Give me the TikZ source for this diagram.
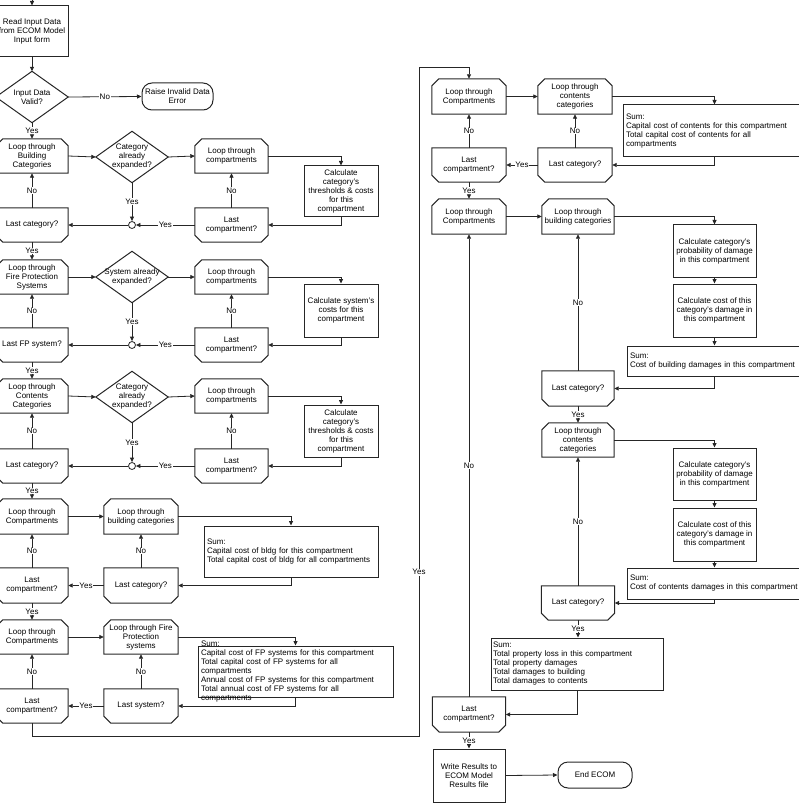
\documentclass[tikz,border=0pt]{standalone}
\usepackage{fontspec}
\setmainfont{Liberation Sans}
\usetikzlibrary{arrows.meta}
\newcommand\toploop[1]{\draw[outl] ([xshift=7pt]#1.north west) -- ([xshift=-7pt]#1.north east) -- ([yshift=-7pt]#1.north east) -- (#1.south east) -- (#1.south west) -- ([yshift=-7pt]#1.north west) -- cycle;}
\newcommand\botloop[1]{\draw[outl] (#1.north west) -- (#1.north east) -- ([yshift=7pt]#1.south east) -- ([xshift=-7pt]#1.south east) -- ([xshift=7pt]#1.south west) -- ([yshift=7pt]#1.south west) -- cycle;}
\newcommand\diam[1]{\draw[outl] (#1.north) -- (#1.east) -- (#1.south) -- (#1.west) -- cycle;}
\tikzset{
  txt/.style={font=\fontsize{8}{9}\selectfont, align=center, inner sep=0pt, text=black},
  outl/.style={line width=1pt, draw=black!85},
  rbox/.style={txt, draw=black!85, line width=1pt},
  lbox/.style={txt, minimum width=73pt, minimum height=34pt},
  dbox/.style={txt, minimum width=72pt, minimum height=51pt},
  sbox/.style={rbox, align=left, inner xsep=3pt},
  term/.style={rbox, rounded corners=10pt},
  junc/.style={circle, draw=black!85, line width=0.8pt, minimum size=7pt, inner sep=0pt, fill=white},
  conn/.style={line width=0.8pt, draw=black!85, -{Triangle[length=4.5pt,width=4pt]}},
  lbl/.style={font=\fontsize{8}{9}\selectfont, fill=white, inner sep=0.7pt, text=black}
}
\begin{document}
\begin{tikzpicture}[x=1pt,y=-1pt]
\useasboundingbox (0,0) rectangle (798,810);
% ---------- left part ----------
\coordinate (start) at (32,0);
\node[rbox, minimum width=72pt, minimum height=51pt] (read) at (32,31.5) {Read Input Data\\from ECOM Model\\Input form};
\node[dbox] (valid) at (32,97) {Input Data\\Valid?};
\node[term, minimum width=71pt, minimum height=27pt] (err) at (177.5,96.5) {Raise Invalid Data\\Error};
% row 1
\node[lbox, minimum width=72pt] (lbc) at (32,156) {Loop through\\Building\\Categories};
\node[dbox] (d1) at (132,157) {Category\\already\\expanded?};
\node[lbox] (lc1) at (231.5,156) {Loop through\\compartments};
\node[rbox, minimum width=74pt, minimum height=51pt] (calc1) at (341,191.5) {Calculate\\category's\\thresholds \& costs\\for this\\compartment};
\node[lbox] (lastc1) at (231.5,225) {Last\\compartment?};
\node[junc] (j1) at (132,225) {};
\node[lbox, minimum width=72pt] (lcat1) at (32,225) {Last category?};
% row 2
\node[lbox, minimum width=72pt] (lfp) at (32,277) {Loop through\\Fire Protection\\Systems};
\node[dbox] (d2) at (132,277) {System already\\expanded?};
\node[lbox] (lc2) at (231.5,277) {Loop through\\compartments};
\node[rbox, minimum width=74pt, minimum height=53pt] (calc2) at (341,310.5) {Calculate system's\\costs for this\\compartment};
\node[lbox] (lastc2) at (231.5,345) {Last\\compartment?};
\node[junc] (j2) at (132,345) {};
\node[lbox, minimum width=72pt] (lfps) at (32,345) {Last FP system?};
% row 3
\node[lbox, minimum width=72pt] (lcc) at (32,396) {Loop through\\Contents\\Categories};
\node[dbox] (d3) at (132,397) {Category\\already\\expanded?};
\node[lbox] (lc3) at (231.5,396) {Loop through\\compartments};
\node[rbox, minimum width=74pt, minimum height=52pt] (calc3) at (341,431) {Calculate\\category's\\thresholds \& costs\\for this\\compartment};
\node[lbox] (lastc3) at (231.5,466) {Last\\compartment?};
\node[junc] (j3) at (132,466) {};
\node[lbox, minimum width=72pt] (lcat3) at (32,466) {Last category?};
% row 4
\node[lbox, minimum width=72pt, minimum height=35pt] (lcomp4) at (32,516.5) {Loop through\\Compartments};
\node[lbox, minimum width=74pt, minimum height=35pt] (lbldg4) at (141,516.5) {Loop through\\building categories};
\node[sbox, text width=168pt, minimum height=51pt] (sum4) at (291,551.5) {Sum:\\Capital cost of bldg for this compartment\\Total capital cost of bldg for all compartments};
\node[lbox, minimum width=74pt, minimum height=35pt] (lcat4) at (141,585.5) {Last category?};
\node[lbox, minimum width=72pt, minimum height=35pt] (lastc4) at (32,585.5) {Last\\compartment?};
% row 5
\node[lbox, minimum width=72pt] (lcomp5) at (32,637) {Loop through\\Compartments};
\node[lbox, minimum width=74pt] (lfp5) at (141,637) {Loop through Fire\\Protection\\systems};
\node[rbox, minimum width=195pt, minimum height=51pt] (sum5box) at (295.5,671.5) {};
\node[txt, align=left, text width=191pt] (sum5) at (296.5,671.5) {Sum:\\Capital cost of FP systems for this compartment\\Total capital cost of FP systems for all\\compartments\\Annual cost of FP systems for this compartment\\Total annual cost of FP systems for all\\compartments};
\node[lbox, minimum width=74pt] (lsys5) at (141,706) {Last system?};
\node[lbox, minimum width=72pt] (lastc5) at (32,706) {Last\\compartment?};
% ---------- right part ----------
\node[lbox, minimum width=74pt, minimum height=35pt] (rcomp1) at (469,96.5) {Loop through\\Compartments};
\node[lbox, minimum width=74pt, minimum height=35pt] (rcont1) at (575,96.5) {Loop through\\contents\\categories};
\node[sbox, text width=176pt, minimum height=52pt] (rsum1) at (714,131) {Sum:\\Capital cost of contents for this compartment\\Total capital cost of contents for all\\compartments};
\node[lbox, minimum width=74pt] (rlcat1) at (575,165) {Last category?};
\node[lbox, minimum width=74pt] (rlastc1) at (469,165) {Last\\compartment?};
\node[lbox, minimum width=74pt, minimum height=35pt] (rcomp2) at (469,216.5) {Loop through\\Compartments};
\node[lbox, minimum width=72pt, minimum height=35pt] (rbldg2) at (578,216.5) {Loop through\\building categories};
\node[rbox, minimum width=83pt, minimum height=52pt] (rcalc1) at (714.5,251) {Calculate category's\\probability of damage\\in this compartment};
\node[rbox, minimum width=83pt, minimum height=53pt] (rcalc2) at (714.5,310.5) {Calculate cost of this\\category's damage in\\this compartment};
\node[sbox, text width=172pt, minimum height=30pt] (rsum2) at (716,361) {Sum:\\Cost of building damages in this compartment};
\node[lbox, minimum width=72pt, minimum height=35pt] (rlcat2) at (578,388.5) {Last category?};
\node[lbox, minimum width=72pt] (rcont2) at (578,440) {Loop through\\contents\\categories};
\node[rbox, minimum width=83pt, minimum height=52pt] (rcalc3) at (714.5,474) {Calculate category's\\probability of damage\\in this compartment};
\node[rbox, minimum width=83pt, minimum height=53pt] (rcalc4) at (714.5,534.5) {Calculate cost of this\\category's damage in\\this compartment};
\node[sbox, text width=172pt, minimum height=31pt] (rsum3) at (716,583.5) {Sum:\\Cost of contents damages in this compartment};
\node[lbox, minimum width=73pt] (rlcat3) at (578,603) {Last category?};
\node[sbox, inner xsep=2pt, text width=168pt, minimum height=52pt] (rsum4) at (577,664) {Sum:\\Total property loss in this compartment\\Total property damages\\Total damages to building\\Total damages to contents};
\node[lbox, minimum width=73pt, minimum height=35pt] (rlastc2) at (469,714.5) {Last\\compartment?};
\node[rbox, minimum width=72pt, minimum height=53pt] (write) at (469,775.5) {Write Results to\\ECOM Model\\Results file};
\node[term, minimum width=74pt, minimum height=26pt] (endn) at (595,775) {End ECOM};
% ---------- outlines ----------
\foreach \n in {lbc,lc1,lfp,lc2,lcc,lc3,lcomp4,lbldg4,lcomp5,lfp5,rcomp1,rcont1,rcomp2,rbldg2,rcont2} {\toploop{\n}}
\foreach \n in {lastc1,lcat1,lastc2,lfps,lastc3,lcat3,lcat4,lastc4,lsys5,lastc5,rlcat1,rlastc1,rlcat2,rlcat3,rlastc2} {\botloop{\n}}
\foreach \n in {valid,d1,d2,d3} {\diam{\n}}
% ---------- connectors ----------
\draw[conn] (start) -- (read.north);
\draw[conn] (read.south) -- (valid.north);
\draw[conn] (valid.east) -- node[lbl]{No} (err.west);
\draw[conn] (valid.south) -- node[lbl]{Yes} (lbc.north);
% row 1
\draw[conn] (lbc.east) -- (d1.west);
\draw[conn] (d1.east) -- (lc1.west);
\draw[conn] (lc1.east) -| (calc1.north);
\draw[conn] (calc1.south) |- (lastc1.east);
\draw[conn] (lastc1.north) -- node[lbl]{No} (lc1.south);
\draw[conn] (lastc1.west) -- node[lbl]{Yes} (j1.east);
\draw[conn] (d1.south) -- node[lbl]{Yes} (j1.north);
\draw[conn] (j1.west) -- (lcat1.east);
\draw[conn] (lcat1.north) -- node[lbl]{No} (lbc.south);
\draw[conn] (lcat1.south) -- node[lbl]{Yes} (lfp.north);
% row 2
\draw[conn] (lfp.east) -- (d2.west);
\draw[conn] (d2.east) -- (lc2.west);
\draw[conn] (lc2.east) -| (calc2.north);
\draw[conn] (calc2.south) |- (lastc2.east);
\draw[conn] (lastc2.north) -- node[lbl]{No} (lc2.south);
\draw[conn] (lastc2.west) -- node[lbl]{Yes} (j2.east);
\draw[conn] (d2.south) -- node[lbl]{Yes} (j2.north);
\draw[conn] (j2.west) -- (lfps.east);
\draw[conn] (lfps.north) -- node[lbl]{No} (lfp.south);
\draw[conn] (lfps.south) -- node[lbl]{Yes} (lcc.north);
% row 3
\draw[conn] (lcc.east) -- (d3.west);
\draw[conn] (d3.east) -- (lc3.west);
\draw[conn] (lc3.east) -| (calc3.north);
\draw[conn] (calc3.south) |- (lastc3.east);
\draw[conn] (lastc3.north) -- node[lbl]{No} (lc3.south);
\draw[conn] (lastc3.west) -- node[lbl]{Yes} (j3.east);
\draw[conn] (d3.south) -- node[lbl]{Yes} (j3.north);
\draw[conn] (j3.west) -- (lcat3.east);
\draw[conn] (lcat3.north) -- node[lbl]{No} (lcc.south);
\draw[conn] (lcat3.south) -- node[lbl]{Yes} (lcomp4.north);
% row 4
\draw[conn] (lcomp4.east) -- (lbldg4.west);
\draw[conn] (lbldg4.east) -| (sum4.north);
\draw[conn] (sum4.south) |- (lcat4.east);
\draw[conn] (lcat4.north) -- node[lbl]{No} (lbldg4.south);
\draw[conn] (lcat4.west) -- node[lbl]{Yes} (lastc4.east);
\draw[conn] (lastc4.north) -- node[lbl]{No} (lcomp4.south);
\draw[conn] (lastc4.south) -- node[lbl]{Yes} (lcomp5.north);
% row 5
\draw[conn] (lcomp5.east) -- (lfp5.west);
\draw[conn] (lfp5.east) -| (sum5box.north);
\draw[conn] (sum5box.south) |- (lsys5.east);
\draw[conn] (lsys5.north) -- node[lbl]{No} (lfp5.south);
\draw[conn] (lsys5.west) -- node[lbl]{Yes} (lastc5.east);
\draw[conn] (lastc5.north) -- node[lbl]{No} (lcomp5.south);
% long link
\coordinate (c2) at (419,736);
\coordinate (c3) at (419,67);
\draw[conn] (lastc5.south) |- (c2) -- node[lbl,pos=0.245]{Yes} (c3) -| (rcomp1.north);
% right column
\draw[conn] (rcomp1.east) -- (rcont1.west);
\draw[conn] (rcont1.east) -| (rcalc1.north |- rsum1.north);
\draw[conn] (rcalc1.north |- rsum1.south) |- (rlcat1.east);
\draw[conn] (rlcat1.north) -- node[lbl]{No} (rcont1.south);
\draw[conn] (rlcat1.west) -- node[lbl]{Yes} (rlastc1.east);
\draw[conn] (rlastc1.north) -- node[lbl]{No} (rcomp1.south);
\draw[conn] (rlastc1.south) -- node[lbl]{Yes} (rcomp2.north);
\draw[conn] (rcomp2.east) -- (rbldg2.west);
\draw[conn] (rbldg2.east) -| (rcalc1.north);
\draw[conn] (rcalc1.south) -- (rcalc2.north);
\draw[conn] (rcalc2.south) -- (rcalc2.south |- rsum2.north);
\draw[conn] (rcalc2.south |- rsum2.south) |- (rlcat2.east);
\draw[conn] (rlcat2.north) -- node[lbl]{No} (rbldg2.south);
\draw[conn] (rlcat2.south) -- node[lbl]{Yes} (rcont2.north);
\draw[conn] (rcont2.east) -| (rcalc3.north);
\draw[conn] (rcalc3.south) -- (rcalc4.north);
\draw[conn] (rcalc4.south) -- (rcalc4.south |- rsum3.north);
\draw[conn] (rcalc4.south |- rsum3.south) |- (rlcat3.east);
\draw[conn] (rlcat3.north) -- node[lbl]{No} (rcont2.south);
\draw[conn] (rlcat3.south) -- node[lbl]{Yes} (rlcat3.south |- rsum4.north);
\draw[conn] (rsum4.south) |- (rlastc2.east);
\draw[conn] (rlastc2.north) -- node[lbl]{No} (rcomp2.south);
\draw[conn] (rlastc2.south) -- node[lbl]{Yes} (write.north);
\draw[conn] (write.east) -- (endn.west);
\end{tikzpicture}
\end{document}
